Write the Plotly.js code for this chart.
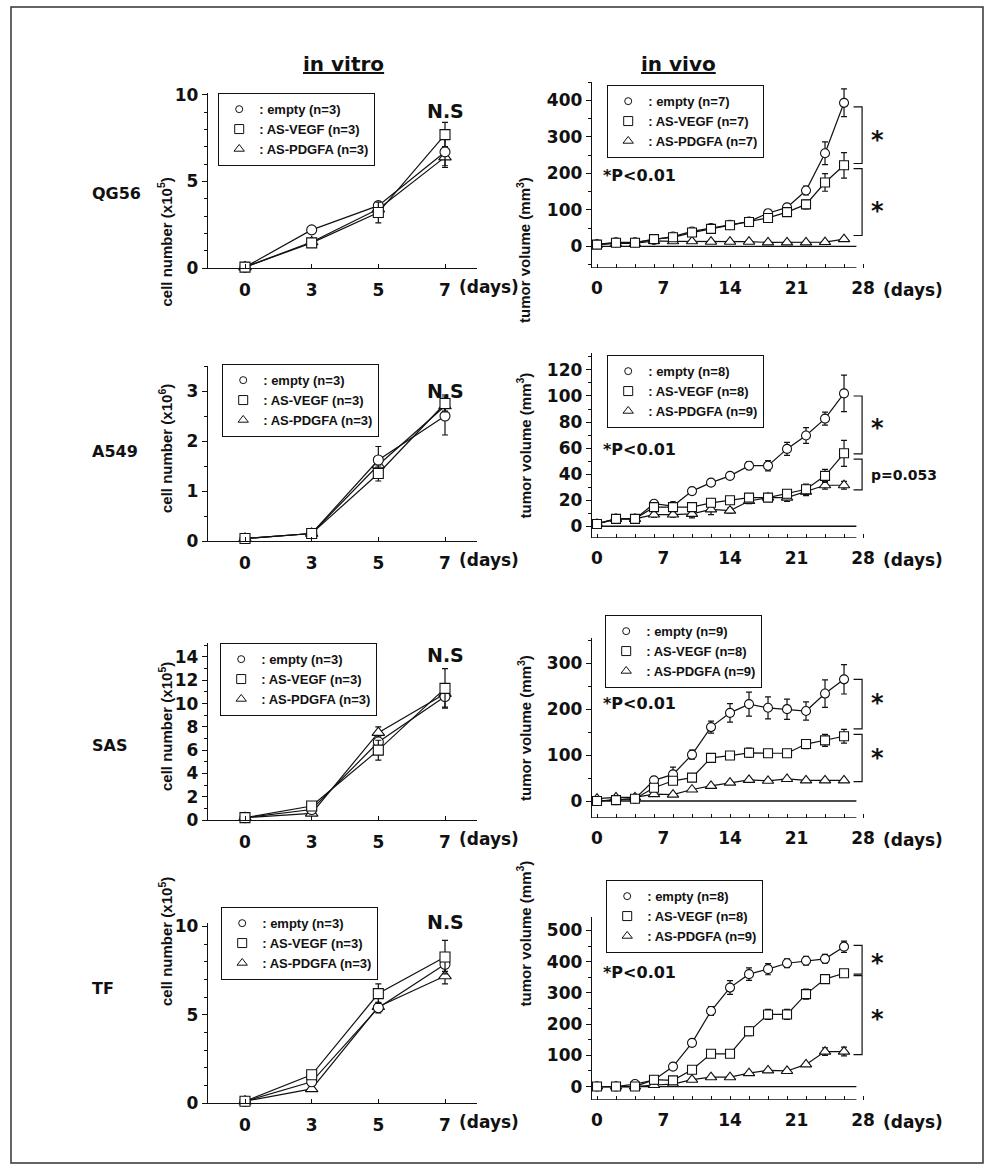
<!DOCTYPE html>
<html><head><meta charset="utf-8">
<script src="https://cdn.plot.ly/plotly-3.0.1.min.js"></script>
<style>html,body{margin:0;padding:0;background:#fff}</style>
</head><body><div id="chart" style="width:989px;height:1167px"></div>
<script>
const W = 989, H = 1167;

// ---------------- data ----------------
const vitroDays = ['0', '3', '5', '7'];
const vivoDays = [0, 2, 4, 6, 8, 10, 12, 14, 16, 18, 20, 22, 24, 26];
const seriesNames = ['empty', 'AS-VEGF', 'AS-PDGFA'];
const cellLines = ['QG56', 'A549', 'SAS', 'TF'];

// QG56
const qg56VitroEmpty = [0.05, 2.2, 3.6, 6.7];
const qg56VitroEmptyErr = [0.05, 0.1, 0.15, 0.9];
const qg56VitroVegf = [0.05, 1.45, 3.2, 7.7];
const qg56VitroVegfErr = [0.05, 0.1, 0.6, 0.7];
const qg56VitroPdgfa = [0.05, 1.5, 3.4, 6.4];
const qg56VitroPdgfaErr = [0.05, 0.1, 0.2, 0.5];
const qg56VitroN = [3, 3, 3];

const qg56VivoEmpty = [6, 11, 11, 18, 27, 41, 50, 59, 68, 91, 107, 153, 255, 393];
const qg56VivoEmptyErr = [2, 2, 2, 3, 4, 5, 5, 6, 6, 8, 10, 12, 31, 38];
const qg56VivoVegf = [5, 10, 10, 20, 25, 38, 48, 58, 67, 78, 94, 115, 175, 222];
const qg56VivoVegfErr = [2, 2, 2, 3, 3, 4, 5, 5, 6, 8, 10, 12, 24, 35];
const qg56VivoPdgfa = [5, 8, 8, 15, 14, 14, 13, 13, 13, 11, 11, 11, 12, 20];
const qg56VivoPdgfaErr = [1, 1, 1, 2, 2, 2, 2, 2, 2, 2, 2, 2, 3, 4];
const qg56VivoN = [7, 7, 7];

// A549
const a549VitroEmpty = [0.05, 0.15, 1.62, 2.5];
const a549VitroEmptyErr = [0.02, 0.03, 0.27, 0.38];
const a549VitroVegf = [0.05, 0.15, 1.35, 2.75];
const a549VitroVegfErr = [0.02, 0.03, 0.15, 0.17];
const a549VitroPdgfa = [0.05, 0.15, 1.52, 2.7];
const a549VitroPdgfaErr = [0.02, 0.03, 0.1, 0.1];
const a549VitroN = [3, 3, 3];

const a549VivoEmpty = [1.8, 5.7, 5.7, 17.3, 15.5, 27, 33.5, 38.7, 46.5, 46.5, 59.4, 69.7, 82.6, 102];
const a549VivoEmptyErr = [1, 1, 1, 2, 3, 2, 2, 2, 3, 4, 5, 6, 5, 14];
const a549VivoVegf = [1.8, 5.7, 5.7, 14.7, 14.7, 14.7, 18, 20, 22, 22, 25, 28.4, 38.7, 56];
const a549VivoVegfErr = [1, 1, 1, 2, 2, 3, 3, 2, 2, 2, 3, 4, 5, 10];
const a549VivoPdgfa = [1.8, 5.7, 5.7, 9, 9, 9.5, 13, 12, 19.4, 22, 22, 26.5, 31.5, 31.5];
const a549VivoPdgfaErr = [1, 1, 1, 2, 2, 3, 4, 2, 2, 2, 3, 3, 3, 3];
const a549VivoN = [8, 8, 9];

// SAS
const sasVitroEmpty = [0.2, 0.9, 6.7, 10.6];
const sasVitroEmptyErr = [0.1, 0.2, 0.5, 0.9];
const sasVitroVegf = [0.2, 1.2, 6.0, 11.3];
const sasVitroVegfErr = [0.1, 0.3, 0.85, 1.7];
const sasVitroPdgfa = [0.2, 0.57, 7.5, 10.85];
const sasVitroPdgfaErr = [0.1, 0.1, 0.5, 0.5];
const sasVitroN = [3, 3, 3];

const sasVivoEmpty = [0, 2, 5, 45, 58, 101, 161, 192, 211, 203, 200, 196, 234, 265];
const sasVivoEmptyErr = [3, 3, 3, 6, 16, 10, 13, 20, 26, 24, 22, 20, 30, 32];
const sasVivoVegf = [0, 2, 5, 29, 44, 51, 94, 99, 105, 104, 104, 124, 132, 141];
const sasVivoVegfErr = [3, 3, 3, 8, 6, 5, 6, 6, 10, 6, 6, 10, 13, 15];
const sasVivoPdgfa = [5, 8, 8, 15, 14, 25, 33, 40, 46, 44, 48, 45, 45, 45];
const sasVivoPdgfaErr = [2, 2, 2, 3, 3, 3, 3, 3, 3, 3, 3, 3, 3, 3];
const sasVivoN = [9, 8, 9];

// TF
const tfVitroEmpty = [0.1, 1.2, 5.4, 7.86];
const tfVitroEmptyErr = [0.05, 0.15, 0.3, 0.4];
const tfVitroVegf = [0.1, 1.6, 6.2, 8.27];
const tfVitroVegfErr = [0.05, 0.2, 0.55, 0.95];
const tfVitroPdgfa = [0.1, 0.8, 5.45, 7.2];
const tfVitroPdgfaErr = [0.05, 0.1, 0.2, 0.45];
const tfVitroN = [3, 3, 3];

const tfVivoEmpty = [0, 0, 8, 21, 64, 140, 242, 317, 360, 376, 395, 403, 409, 448];
const tfVivoEmptyErr = [3, 3, 4, 5, 6, 8, 14, 22, 20, 18, 14, 14, 14, 18];
const tfVivoVegf = [0, 0, 0, 22, 20, 54, 105, 105, 177, 231, 231, 296, 344, 363];
const tfVivoVegfErr = [3, 3, 3, 4, 4, 6, 10, 10, 14, 16, 16, 16, 8, 8];
const tfVivoPdgfa = [0, 0, 0, 5, 8, 22, 30, 30, 43, 52, 50, 71, 112, 112];
const tfVivoPdgfaErr = [2, 2, 2, 2, 2, 3, 3, 3, 4, 4, 4, 6, 12, 14];
const tfVivoN = [8, 8, 9];

// ---------------- layout geometry (pixels) ----------------
const INK = '#111';
const AXFONT = {family: 'DejaVu Sans', size: 17, color: INK, weight: 'bold'};
const panels = [
  {x: vitroDays, ys: [qg56VitroEmpty, qg56VitroVegf, qg56VitroPdgfa], es: [qg56VitroEmptyErr, qg56VitroVegfErr, qg56VitroPdgfaErr], n: qg56VitroN,
   vitro: true, top: 93, bot: 268, range: [0, 10.1], dtick: 5, minor: 1, leg: [218, 93], unit: '5'},
  {x: vivoDays, ys: [qg56VivoEmpty, qg56VivoVegf, qg56VivoPdgfa], es: [qg56VivoEmptyErr, qg56VivoVegfErr, qg56VivoPdgfaErr], n: qg56VivoN,
   vitro: false, top: 82, bot: 268, range: [-59, 450], dtick: 100, minor: 50, leg: [607, 85]},
  {x: vitroDays, ys: [a549VitroEmpty, a549VitroVegf, a549VitroPdgfa], es: [a549VitroEmptyErr, a549VitroVegfErr, a549VitroPdgfaErr], n: a549VitroN,
   vitro: true, top: 366, bot: 541, range: [0, 3.5], dtick: 1, minor: 0.5, leg: [222, 364], unit: '6'},
  {x: vivoDays, ys: [a549VivoEmpty, a549VivoVegf, a549VivoPdgfa], es: [a549VivoEmptyErr, a549VivoVegfErr, a549VivoPdgfaErr], n: a549VivoN,
   vitro: false, top: 353, bot: 538, range: [-9, 133], dtick: 20, minor: 10, leg: [607, 355]},
  {x: vitroDays, ys: [sasVitroEmpty, sasVitroVegf, sasVitroPdgfa], es: [sasVitroEmptyErr, sasVitroVegfErr, sasVitroPdgfaErr], n: sasVitroN,
   vitro: true, top: 643, bot: 820, range: [0, 15.2], dtick: 2, minor: 1, leg: [220, 643], unit: '5'},
  {x: vivoDays, ys: [sasVivoEmpty, sasVivoVegf, sasVivoPdgfa], es: [sasVivoEmptyErr, sasVivoVegfErr, sasVivoPdgfaErr], n: sasVivoN,
   vitro: false, top: 638, bot: 818, range: [-37, 355], dtick: 100, minor: 50, leg: [605, 615]},
  {x: vitroDays, ys: [tfVitroEmpty, tfVitroVegf, tfVitroPdgfa], es: [tfVitroEmptyErr, tfVitroVegfErr, tfVitroPdgfaErr], n: tfVitroN,
   vitro: true, top: 923, bot: 1103, range: [0, 10.2], dtick: 5, minor: 1, leg: [221, 907], unit: '5'},
  {x: vivoDays, ys: [tfVivoEmpty, tfVivoVegf, tfVivoPdgfa], es: [tfVivoEmptyErr, tfVivoVegfErr, tfVivoPdgfaErr], n: tfVivoN,
   vitro: false, top: 917, bot: 1100, range: [-43, 543], dtick: 100, minor: 50, leg: [606, 880]}
];
const VITRO_L = 208, VITRO_R = 477, VIVO_L = 592, VIVO_R = 875;
const VIVO_RANGE = [-0.526, 29.26];
const LINE_END = 27.3;

const px = v => v / W;
const py = v => 1 - v / H;

const symbols = ['circle', 'square', 'triangle-up'];
const drawOrder = [2, 0, 1];

const traces = [];
const layout = {
  width: W, height: H, margin: {l: 0, r: 0, t: 0, b: 0},
  paper_bgcolor: 'white', plot_bgcolor: 'rgba(0,0,0,0)',
  showlegend: true, shapes: [], annotations: [],
  font: {family: 'DejaVu Sans', color: INK}
};

panels.forEach((p, i) => {
  const k = i + 1;
  const sfx = k === 1 ? '' : String(k);
  const xa = 'x' + sfx, ya = 'y' + sfx;
  const legKey = 'legend' + sfx;
  const msize = p.vitro ? 10 : 9;

  drawOrder.forEach(s => {
    traces.push({
      type: 'scatter', mode: 'lines+markers', x: p.x, y: p.ys[s],
      xaxis: xa, yaxis: ya, showlegend: false, cliponaxis: false,
      line: {color: INK, width: 1.2},
      marker: {symbol: symbols[s], size: s === 2 ? msize + 1 : msize, color: 'white', line: {color: INK, width: 1.1}},
      error_y: {type: 'data', array: p.es[s], visible: true, color: INK, thickness: 1.2, width: 3}
    });
  });
  seriesNames.forEach((nm, s) => {
    traces.push({
      type: 'scatter', mode: 'markers', x: [null], y: [null], xaxis: xa, yaxis: ya,
      legend: legKey, showlegend: true, name: ': ' + nm + ' (n=' + p.n[s] + ')',
      marker: {symbol: symbols[s], size: [7, 9, 9][s], color: 'white', line: {color: INK, width: 1}}
    });
  });

  layout[legKey] = {
    x: px(p.leg[0]), y: py(p.leg[1]), xanchor: 'left', yanchor: 'top', xref: 'paper', yref: 'paper',
    bgcolor: 'white', bordercolor: INK, borderwidth: 1.2, itemwidth: 30, traceorder: 'normal',
    tracegroupgap: 0, itemclick: false, itemdoubleclick: false,
    font: {family: 'Liberation Sans', size: 13, weight: 'bold', color: INK}
  };

  const xKey = 'xaxis' + sfx, yKey = 'yaxis' + sfx;
  if (p.vitro) {
    layout[xKey] = {
      domain: [px(VITRO_L), px(VITRO_R)], anchor: ya, type: 'category',
      categoryorder: 'array', categoryarray: vitroDays, range: [-0.555, 3.48],
      showline: true, linecolor: INK, linewidth: 1.3, ticks: 'inside', ticklen: 4, tickcolor: INK,
      showgrid: false, zeroline: false, tickfont: AXFONT, ticklabelstandoff: 6, fixedrange: true
    };
  } else {
    layout[xKey] = {
      domain: [px(VIVO_L), px(VIVO_R)], anchor: ya, type: 'linear', range: VIVO_RANGE,
      tickvals: [0, 7, 14, 21, 28], ticks: '', showline: false, showgrid: false, zeroline: false,
      minor: {ticks: 'inside', tick0: 0, dtick: 2, ticklen: 4, tickcolor: INK},
      tickfont: AXFONT, ticklabelstandoff: 8, fixedrange: true
    };
    // bottom axis line and zero line
    layout.shapes.push({type: 'line', xref: xa, yref: ya, x0: VIVO_RANGE[0], x1: LINE_END, y0: p.range[0], y1: p.range[0], line: {color: INK, width: 1.3}, layer: 'below'});
    layout.shapes.push({type: 'line', xref: xa, yref: ya, x0: VIVO_RANGE[0], x1: LINE_END, y0: 0, y1: 0, line: {color: INK, width: 1.3}, layer: 'below'});
  }
  layout[yKey] = {
    domain: [py(p.bot), py(p.top)], anchor: xa, range: p.range, dtick: p.dtick, tick0: 0,
    showline: true, linecolor: INK, linewidth: 1.3, ticks: 'outside', ticklen: 5, tickcolor: INK,
    minor: {ticks: 'outside', dtick: p.minor, tick0: 0, ticklen: 3, tickcolor: INK},
    showgrid: false, zeroline: false, tickfont: AXFONT, fixedrange: true
  };

  // y titles
  const mid = (p.top + p.bot) / 2;
  layout.annotations.push({
    xref: 'paper', yref: 'paper', x: px(p.vitro ? 154 : 524), y: py(p.vitro ? mid - 5 : mid),
    text: p.vitro ? 'cell number (x10<sup>' + p.unit + '</sup>)' : 'tumor volume (mm<sup>3</sup>)',
    textangle: -90, showarrow: false, font: {family: 'Liberation Sans', size: 15, weight: 'bold', color: INK}
  });
  // "(days)"
  layout.annotations.push({
    xref: 'paper', yref: 'paper', x: px(p.vitro ? 457 : 881), y: py(p.bot + (p.vitro ? 19 : 22)),
    xanchor: 'left', yanchor: 'middle', text: '(days)', showarrow: false, font: AXFONT
  });
  if (p.vitro) {
    layout.annotations.push({
      xref: 'paper', yref: 'paper', x: px(445), y: py(p.top + (k === 1 ? 5 : 12)), text: 'N.S',
      showarrow: false, font: {family: 'DejaVu Sans', size: 19, weight: 'bold', color: INK}
    });
  }
});

// P value labels in vivo
const pLabelY = [195, 59, 212, 366];
[2, 4, 6, 8].forEach((k, r) => {
  layout.annotations.push({
    xref: 'paper', yref: 'y' + k, x: px(601), y: pLabelY[r], xanchor: 'left', text: '*P<0.01',
    showarrow: false, font: {family: 'DejaVu Sans', size: 16, weight: 'bold', color: INK}
  });
});

// significance brackets [axisIndex, top, bottom, label, labelY]
const brackets = [
  [2, 382, 227, '*', 309], [2, 213, 30, '*', 114],
  [4, 100, 55.5, '*', 80], [4, 51.6, 27.9, 'p=0.053', 39],
  [6, 265, 157, '*', 227], [6, 145, 42, '*', 106],
  [8, 452, 360, '*', 414], [8, 355, 102, '*', 237]
];
brackets.forEach(b => {
  const xa = 'x' + b[0], ya = 'y' + b[0];
  layout.shapes.push({
    type: 'path', xref: xa, yref: ya,
    path: `M 27.0 ${b[1]} L 27.9 ${b[1]} L 27.9 ${b[2]} L 27.0 ${b[2]}`,
    line: {color: INK, width: 1.2}
  });
  const star = b[3] === '*';
  layout.annotations.push({
    xref: 'paper', yref: ya, x: px(star ? 877 : 869), y: b[4], xanchor: star ? 'center' : 'left',
    yshift: star ? -6 : 0, text: b[3], showarrow: false,
    font: {family: 'DejaVu Sans', size: star ? 24 : 14, weight: 'bold', color: INK}
  });
});

// column titles and row labels
layout.annotations.push({xref: 'paper', yref: 'paper', x: px(343), y: py(50), text: '<u>in vitro</u>', showarrow: false,
  font: {family: 'DejaVu Sans', size: 20, weight: 'bold', color: INK}});
layout.annotations.push({xref: 'paper', yref: 'paper', x: px(718), y: py(50), text: '<u>in vivo</u>', showarrow: false,
  font: {family: 'DejaVu Sans', size: 20, weight: 'bold', color: INK}});
const rowLabelY = [182, 451, 745, 1000];
cellLines.forEach((c, r) => {
  layout.annotations.push({xref: 'paper', yref: 'paper', x: px(90), y: py(rowLabelY[r]), text: c, showarrow: false,
    font: {family: 'DejaVu Sans', size: 16, weight: 'bold', color: INK}});
});

// outer frame
layout.shapes.push({type: 'rect', xref: 'paper', yref: 'paper', x0: px(11), x1: px(983), y0: py(1163), y1: py(7),
  line: {color: '#333', width: 1.5}});

Plotly.newPlot('chart', traces, layout, {staticPlot: true, displayModeBar: false});
</script>
</body></html>
